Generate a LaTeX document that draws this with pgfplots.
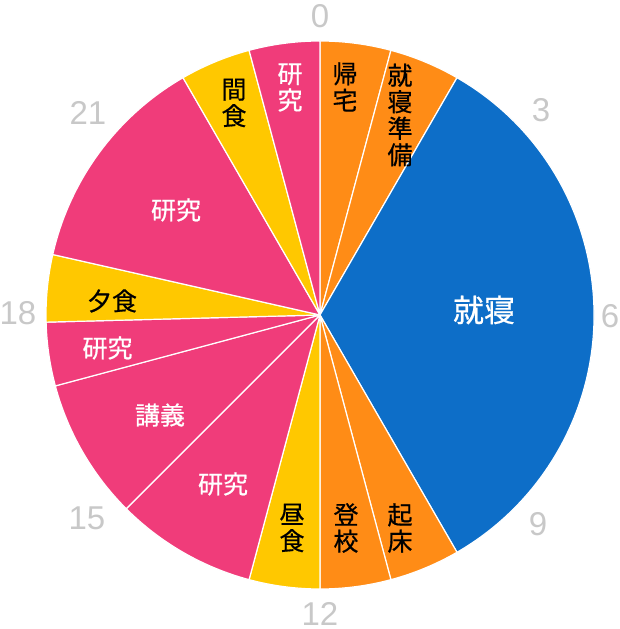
\documentclass[border=0pt]{standalone}
\usepackage{pgfplots}
\pgfplotsset{compat=1.18}
\usepackage{pgfplotstable}
\usepackage{fontspec}
\setmainfont{Liberation Sans}
\newfontfamily\cjk[FakeBold=0.6]{Noto Sans CJK JP}
\definecolor{cOr}{RGB}{255,140,22}
\definecolor{cBl}{RGB}{13,110,200}
\definecolor{cPk}{RGB}{240,60,122}
\definecolor{cYe}{RGB}{255,200,0}
\definecolor{cGr}{RGB}{200,200,200}

% segments of the day, in hours (clockwise from 0 at the top)
\pgfplotstableread{
start end colour
0 1 cOr
1 2 cOr
2 10 cBl
10 11 cOr
11 12 cOr
12 13 cYe
13 15 cPk
15 17 cPk
17 17.9 cPk
17.9 18.85 cYe
18.85 22 cPk
22 23 cYe
23 24 cPk
}\segs

\begin{document}
\begin{tikzpicture}
\begin{axis}[x=1pt, y=1pt, xmin=-320, xmax=299, ymin=-314, ymax=315,
  hide axis, clip=false]
\pgfplotstablegetrowsof{\segs}
\pgfmathtruncatemacro\nlast{\pgfplotsretval-1}
\pgfplotsforeachungrouped \i in {0,...,\nlast}{%
  \pgfplotstablegetelem{\i}{start}\of\segs \let\hs\pgfplotsretval
  \pgfplotstablegetelem{\i}{end}\of\segs \let\he\pgfplotsretval
  \pgfplotstablegetelem{\i}{colour}\of\segs \let\hc\pgfplotsretval
  \pgfmathsetmacro\as{90-15*\hs}%
  \pgfmathsetmacro\ae{90-15*\he}%
  \pgfmathsetmacro\xs{274*cos(\as)}%
  \pgfmathsetmacro\ys{274*sin(\as)}%
  \edef\temp{\noexpand\fill[\hc, draw=white, line width=1.2pt, line join=round]
    (axis cs:0,0) -- (axis cs:\xs,\ys) arc[start angle=\as, end angle=\ae, radius=274pt] -- cycle;}%
  \temp
}
% segment labels
\tikzset{lab/.style={align=center, inner sep=0pt, font=\cjk\fontsize{25}{26.5}\selectfont}}
\node[lab, text=black] at (axis cs:25,228) {帰\\宅};
\node[lab, text=black] at (axis cs:80,200) {就\\寝\\準\\備};
\node[lab, text=white] at (axis cs:-30,227.5) {研\\究};
\node[lab, text=black] at (axis cs:-86,212) {間\\食};
\node[lab, text=white] at (axis cs:-144,105) {研究};
\node[lab, text=black] at (axis cs:-208,14) {夕食};
\node[lab, text=white] at (axis cs:-212.5,-33) {研究};
\node[lab, text=white] at (axis cs:-160,-100) {講義};
\node[lab, text=white] at (axis cs:-97,-169) {研究};
\node[lab, text=black] at (axis cs:-28,-213) {昼\\食};
\node[lab, text=black] at (axis cs:26,-213) {登\\校};
\node[lab, text=black] at (axis cs:80,-213) {起\\床};
\node[lab, text=white, font=\cjk\fontsize{31}{32}\selectfont] at (axis cs:164,5) {就寝};
% hour labels
\tikzset{hr/.style={inner sep=0pt, text=cGr, font=\fontsize{33}{33}\selectfont}}
\node[hr] at (axis cs:0,298.5) {0};
\node[hr] at (axis cs:221,205) {3};
\node[hr] at (axis cs:290,-1) {6};
\node[hr] at (axis cs:218,-209) {9};
\node[hr] at (axis cs:0,-298.5) {12};
\node[hr] at (axis cs:-233,-203) {15};
\node[hr] at (axis cs:-302,2) {18};
\node[hr] at (axis cs:-232,202) {21};
\coordinate (bl) at (axis cs:-320,-314);
\coordinate (tr) at (axis cs:299,315);
\end{axis}
\pgfresetboundingbox
\useasboundingbox (bl) rectangle (tr);
\end{tikzpicture}
\end{document}
